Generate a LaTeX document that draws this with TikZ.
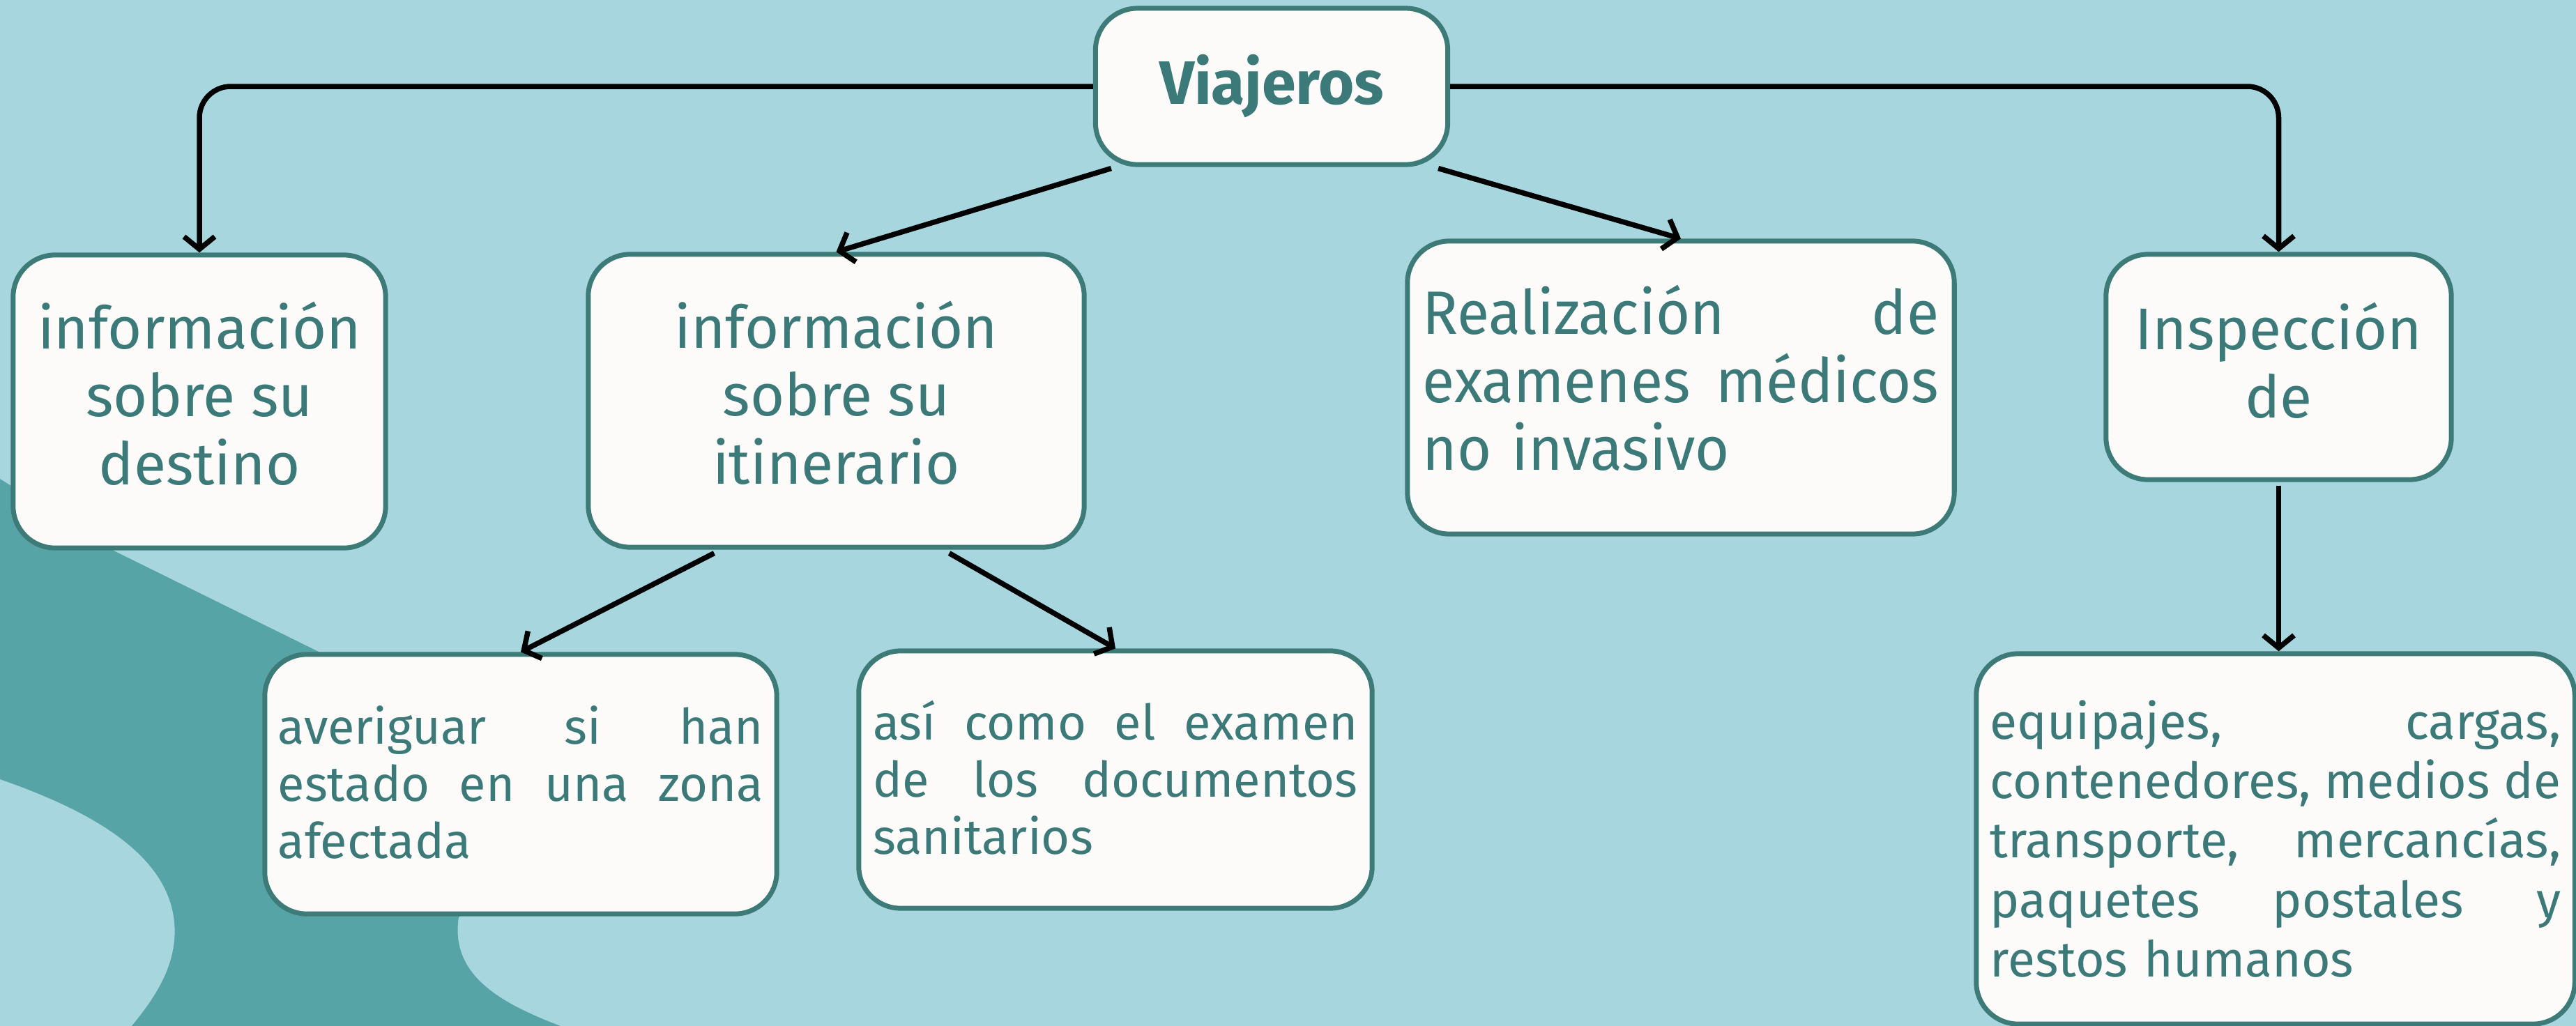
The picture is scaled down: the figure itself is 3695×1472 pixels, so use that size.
\documentclass[tikz,border=0pt]{standalone}
\usepackage{fontspec}
\setmainfont{Fira Sans}
\newfontfamily\condfont[FakeStretch=0.96]{Fira Sans}
\usetikzlibrary{arrows.meta}
\definecolor{bgc}{HTML}{A8D6DF}
\definecolor{blobc}{HTML}{56A4A6}
\definecolor{boxfill}{HTML}{FCFBF9}
\definecolor{boxline}{HTML}{3D7B79}
\definecolor{txtc}{HTML}{3B7A78}
\newcommand{\jline}[1]{\noindent\hbox to \hsize{#1}\par}
\newcommand{\dpt}[1]{\rule[-#1]{0pt}{#1}}
\begin{document}
\begin{tikzpicture}[x=0.01cm,y=-0.01cm,
  box/.style={draw=boxline, line width=0.07cm, fill=boxfill, rounded corners=0.6cm, text=txtc, inner sep=0pt},
  bigtxt/.style={font=\fontsize{24}{27.8}\selectfont, align=center},
  condtxt/.style={font=\condfont\fontsize{25}{27.8}\selectfont, align=left},
  smalltxt/.style={font=\fontsize{20}{23.3}\selectfont, align=left},
  gtxt/.style={font=\fontsize{20.3}{24.2}\selectfont, align=left},
  arr/.style={draw=black, line width=0.075cm, -{Straight Barb[length=0.18cm,width=0.44cm]}},
]
\fill[bgc] (0,0) rectangle (3695,1472);
\useasboundingbox (0,0) rectangle (3695,1472);
% background blob
\fill[blobc] (0,687) -- (163,790) -- (457,935) -- (800,1150) -- (658,1316)
  .. controls (645,1400) and (720,1440) .. (804,1472) -- (189,1472)
  .. controls (215,1440) and (245,1400) .. (250,1350)
  .. controls (260,1240) and (150,1170) .. (0,1118) -- cycle;

% nodes
\node[box, font=\fontsize{25}{30}\selectfont\bfseries, minimum width=5.05cm, minimum height=2.24cm] (V) at (1824,124) {Viajeros};
\node[box, bigtxt, minimum width=5.34cm, minimum height=4.2cm] (A) at (286,576) {información\\sobre su\\destino\dpt{0.24cm}};
\node[box, bigtxt, minimum width=7.11cm, minimum height=4.2cm] (B) at (1199.5,575) {información\\sobre su\\itinerario\dpt{0.24cm}};
\node[box, condtxt, text width=7.40cm, inner xsep=0.22cm, minimum height=4.2cm] (C) at (2411,556) {\jline{Realización\hfill de}\jline{examenes\hfill médicos}\noindent no invasivo\dpt{0.28cm}};
\node[box, bigtxt, minimum width=4.95cm, minimum height=3.23cm] (D) at (3268.5,526.5) {Inspección\\de\dpt{0.2cm}};
\node[box, smalltxt, text width=6.96cm, inner xsep=0.19cm, minimum height=3.72cm] (E) at (747,1125) {\jline{averiguar\hfill si\hfill han}\jline{estado\hfill en\hfill una\hfill zona}\noindent afectada\dpt{0.06cm}};
\node[box, smalltxt, text width=6.95cm, inner xsep=0.205cm, minimum height=3.69cm] (F) at (1600,1118.5) {\jline{así\hfill como\hfill el\hfill examen}\jline{de\hfill los\hfill documentos}\noindent sanitarios\dpt{0.06cm}};
\node[box, gtxt, text width=8.18cm, inner xsep=0.2cm, minimum height=5.31cm] (G) at (3264,1203.5) {\jline{equipajes,\hfill cargas,}\jline{contenedores,\hfill medios\hfill de}\jline{transporte,\hfill mercancías,}\jline{paquetes\hfill postales\hfill y}\noindent restos humanos};

% connectors
\draw[arr, rounded corners=0.45cm] (V.west) -| (A.north);
\draw[arr, rounded corners=0.45cm] (V.east) -| (D.north);
\draw[arr] ([xshift=0.26cm,yshift=-0.02cm]V.south west) -- (B.north);
\draw[arr] ([xshift=-0.17cm,yshift=-0.02cm]V.south east) -- (C.north);
\draw[arr] ([xshift=1.84cm,yshift=-0.05cm]B.south west) -- (E.north);
\draw[arr] ([xshift=-1.97cm,yshift=-0.05cm]B.south east) -- (F.north);
\draw[arr] ([yshift=-0.05cm]D.south) -- (D.south |- G.north);
\end{tikzpicture}
\end{document}
